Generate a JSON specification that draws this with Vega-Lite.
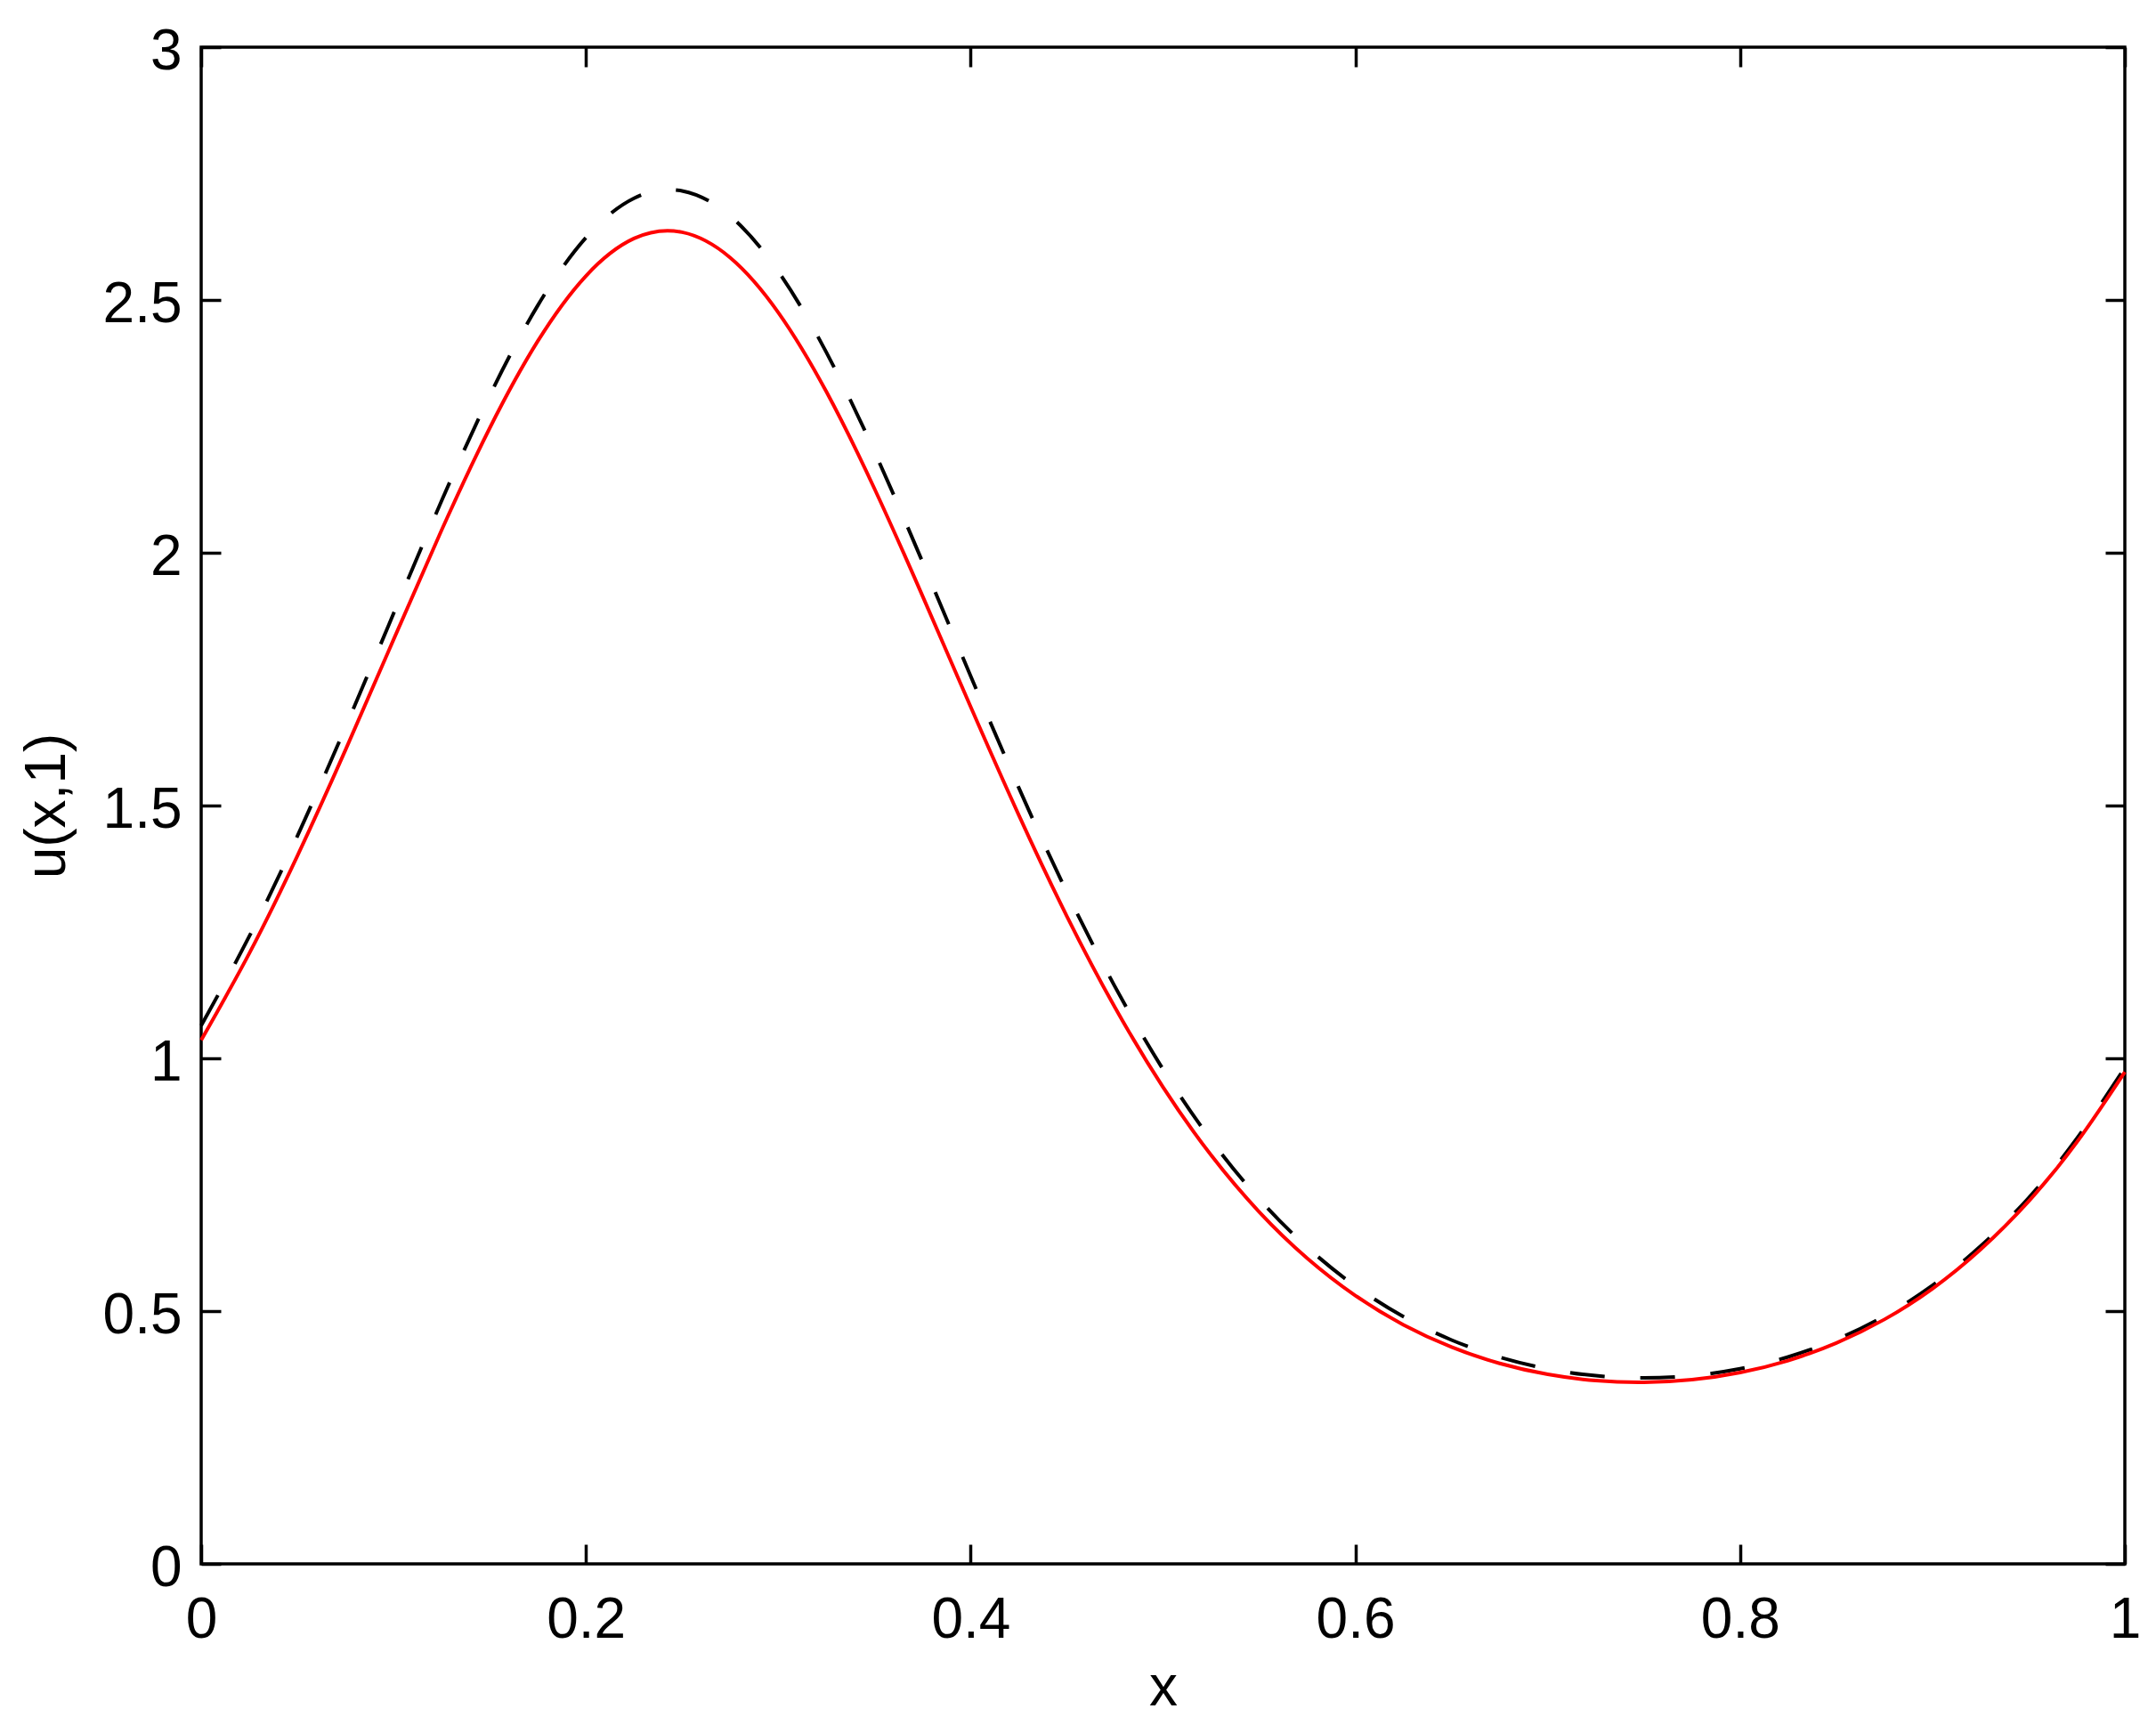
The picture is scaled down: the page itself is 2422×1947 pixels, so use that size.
{
  "$schema": "https://vega.github.io/schema/vega-lite/v6.json",
  "width": 2161,
  "height": 1704,
  "autosize": "none",
  "padding": {"left": 226, "top": 53, "right": 35, "bottom": 190},
  "background": "white",
  "config": {
    "view": {"stroke": "black", "strokeWidth": 3.5},
    "axis": {
      "grid": false,
      "domain": false,
      "labelFont": "Liberation Sans",
      "labelFontSize": 64,
      "labelColor": "black",
      "labelFlush": false,
      "labelOverlap": false,
      "titleFont": "Liberation Sans",
      "titleFontSize": 64,
      "titleFontWeight": "normal",
      "titleColor": "black",
      "tickColor": "black",
      "tickWidth": 3.5,
      "tickSize": -22
    }
  },
  "datasets": {
    "dashed": [
      {"x": 0, "u": 1.0648}, {"x": 0.025, "u": 1.2413}, {"x": 0.05, "u": 1.4395}, {"x": 0.075, "u": 1.6549},
      {"x": 0.1, "u": 1.8797}, {"x": 0.125, "u": 2.1029}, {"x": 0.15, "u": 2.311}, {"x": 0.175, "u": 2.4892},
      {"x": 0.2, "u": 2.6232}, {"x": 0.225, "u": 2.7011}, {"x": 0.25, "u": 2.7158},
      {"x": 0.275, "u": 2.666}, {"x": 0.3, "u": 2.5562}, {"x": 0.325, "u": 2.3964}, {"x": 0.35, "u": 2.2},
      {"x": 0.375, "u": 1.9817}, {"x": 0.4, "u": 1.7561}, {"x": 0.425, "u": 1.5354}, {"x": 0.45, "u": 1.3286},
      {"x": 0.475, "u": 1.1419}, {"x": 0.5, "u": 0.9783}, {"x": 0.525, "u": 0.8385}, {"x": 0.55, "u": 0.7218},
      {"x": 0.575, "u": 0.6262}, {"x": 0.6, "u": 0.5494}, {"x": 0.625, "u": 0.489}, {"x": 0.65, "u": 0.4428},
      {"x": 0.675, "u": 0.4088}, {"x": 0.7, "u": 0.3857}, {"x": 0.725, "u": 0.3722}, {"x": 0.75, "u": 0.3679},
      {"x": 0.775, "u": 0.3724}, {"x": 0.8, "u": 0.386}, {"x": 0.825, "u": 0.4094}, {"x": 0.85, "u": 0.4436},
      {"x": 0.875, "u": 0.4901}, {"x": 0.9, "u": 0.5508}, {"x": 0.925, "u": 0.6284}, {"x": 0.95, "u": 0.724},
      {"x": 0.975, "u": 0.8411}, {"x": 1, "u": 0.9813}
    ],
    "solid": [
      {"x": 0, "u": 1.0359}, {"x": 0.025, "u": 1.2075}, {"x": 0.05, "u": 1.4003}, {"x": 0.075, "u": 1.6098},
      {"x": 0.1, "u": 1.8282}, {"x": 0.125, "u": 2.0448}, {"x": 0.15, "u": 2.2465}, {"x": 0.175, "u": 2.4187},
      {"x": 0.2, "u": 2.5475}, {"x": 0.225, "u": 2.6216}, {"x": 0.25, "u": 2.634},
      {"x": 0.275, "u": 2.5837}, {"x": 0.3, "u": 2.4753}, {"x": 0.325, "u": 2.3186}, {"x": 0.35, "u": 2.1268},
      {"x": 0.375, "u": 1.9144}, {"x": 0.4, "u": 1.6953}, {"x": 0.425, "u": 1.4813}, {"x": 0.45, "u": 1.2812},
      {"x": 0.475, "u": 1.1008}, {"x": 0.5, "u": 0.943}, {"x": 0.525, "u": 0.8084}, {"x": 0.55, "u": 0.6962},
      {"x": 0.575, "u": 0.6044}, {"x": 0.6, "u": 0.5307}, {"x": 0.625, "u": 0.4729}, {"x": 0.65, "u": 0.4289},
      {"x": 0.675, "u": 0.3966}, {"x": 0.7, "u": 0.3749}, {"x": 0.725, "u": 0.3625}, {"x": 0.75, "u": 0.3591},
      {"x": 0.775, "u": 0.3643}, {"x": 0.8, "u": 0.3785}, {"x": 0.825, "u": 0.4022}, {"x": 0.85, "u": 0.4367},
      {"x": 0.875, "u": 0.4835}, {"x": 0.9, "u": 0.5443}, {"x": 0.925, "u": 0.6218}, {"x": 0.95, "u": 0.7171},
      {"x": 0.975, "u": 0.8338}, {"x": 1, "u": 0.973}
    ]
  },
  "layer": [
    {
      "data": {"name": "dashed"},
      "mark": {"type": "line", "color": "black", "strokeWidth": 4, "strokeDash": [39, 40], "strokeCap": "butt", "interpolate": "natural"},
      "encoding": {
        "x": {
          "field": "x", "type": "quantitative",
          "scale": {"domain": [0, 1], "nice": false, "zero": false},
          "axis": {"orient": "bottom", "values": [0, 0.2, 0.4, 0.6, 0.8, 1], "format": "~g", "labelPadding": 53, "title": "x", "titlePadding": 12}
        },
        "y": {
          "field": "u", "type": "quantitative",
          "scale": {"domain": [0, 3], "nice": false, "zero": false},
          "axis": {"orient": "left", "values": [0, 0.5, 1, 1.5, 2, 2.5, 3], "format": "~g", "labelPadding": 44, "labelOffset": 5, "title": "u(x,1)", "titlePadding": 30}
        }
      }
    },
    {
      "data": {"name": "solid"},
      "mark": {"type": "line", "color": "#ff0000", "strokeWidth": 4, "interpolate": "natural"},
      "encoding": {
        "x": {
          "field": "x", "type": "quantitative",
          "scale": {"domain": [0, 1], "nice": false, "zero": false},
          "axis": {"orient": "top", "values": [0, 0.2, 0.4, 0.6, 0.8, 1], "labels": false, "title": null}
        },
        "y": {
          "field": "u", "type": "quantitative",
          "scale": {"domain": [0, 3], "nice": false, "zero": false},
          "axis": {"orient": "right", "values": [0, 0.5, 1, 1.5, 2, 2.5, 3], "labels": false, "title": null}
        }
      }
    }
  ],
  "resolve": {"axis": {"x": "independent", "y": "independent"}}
}
